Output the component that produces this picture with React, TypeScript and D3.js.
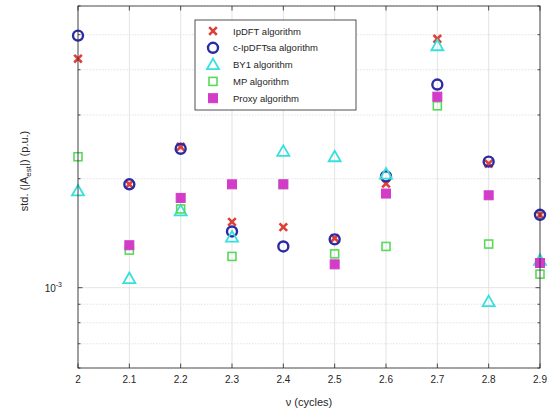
import React from "react";
import * as d3 from "d3";

// Frequency deviation (cycles) for each test case
const nu = [2.0, 2.1, 2.2, 2.3, 2.4, 2.5, 2.6, 2.7, 2.8, 2.9];

// Standard deviation of the estimated amplitude (p.u.) per algorithm (null = not plotted)
const ipdft = [4.29e-3, 1.93e-3, 2.45e-3, 1.52e-3, 1.47e-3, 1.37e-3, 1.94e-3, 4.87e-3, 2.2e-3, 1.59e-3];
const cIpdftSa = [4.97e-3, 1.93e-3, 2.42e-3, 1.43e-3, 1.3e-3, 1.36e-3, 2.03e-3, 3.64e-3, 2.23e-3, 1.59e-3];
const by1 = [1.85e-3, 1.06e-3, 1.63e-3, 1.38e-3, 2.38e-3, 2.3e-3, 2.06e-3, 4.66e-3, 0.915e-3, 1.19e-3];
const mp = [2.3e-3, 1.27e-3, 1.65e-3, 1.22e-3, 1.93e-3, 1.24e-3, 1.3e-3, 3.18e-3, 1.32e-3, 1.09e-3];
const proxy: (number | null)[] = [null, 1.31e-3, 1.77e-3, 1.93e-3, 1.93e-3, 1.16e-3, 1.82e-3, 3.37e-3, 1.8e-3, 1.17e-3];

const xTicks = [2.0, 2.1, 2.2, 2.3, 2.4, 2.5, 2.6, 2.7, 2.8, 2.9];
const xTickLabels = ["2", "2.1", "2.2", "2.3", "2.4", "2.5", "2.6", "2.7", "2.8", "2.9"];
const yMinorTicks = [6e-4, 7e-4, 8e-4, 9e-4, 2e-3, 3e-3, 4e-3, 5e-3, 6e-3];
const yMajorTicks = [1e-3];

type Marker = "x" | "circle" | "triangle" | "square" | "filled";
const series: { name: string; values: (number | null)[]; color: string; marker: Marker }[] = [
  { name: "IpDFT algorithm", values: ipdft, color: "#dc4038", marker: "x" },
  { name: "c-IpDFTsa algorithm", values: cIpdftSa, color: "#2b2ba6", marker: "circle" },
  { name: "BY1 algorithm", values: by1, color: "#36e0dc", marker: "triangle" },
  { name: "MP algorithm", values: mp, color: "#5ad85a", marker: "square" },
  { name: "Proxy algorithm", values: proxy, color: "#d23cc8", marker: "filled" },
];

const W = 550;
const H = 416;
const left = 78;
const right = 540;
const top = 6;
const bottom = 368;
const font = "'Liberation Sans', Arial, sans-serif";
const textColor = "#262626";

function MarkerShape({ kind, cx, cy, color }: { kind: Marker; cx: number; cy: number; color: string }) {
  switch (kind) {
    case "x":
      return (
        <g stroke={color} strokeWidth={2.6}>
          <line x1={cx - 3.8} y1={cy - 3.8} x2={cx + 3.8} y2={cy + 3.8} />
          <line x1={cx - 3.8} y1={cy + 3.8} x2={cx + 3.8} y2={cy - 3.8} />
        </g>
      );
    case "circle":
      return <circle cx={cx} cy={cy} r={5} fill="none" stroke={color} strokeWidth={2.4} />;
    case "triangle":
      return (
        <path
          d={`M${cx},${cy - 6} L${cx + 6},${cy + 4.5} L${cx - 6},${cy + 4.5} Z`}
          fill="none"
          stroke={color}
          strokeWidth={1.8}
        />
      );
    case "square":
      return <rect x={cx - 4} y={cy - 4} width={8} height={8} fill="none" stroke={color} strokeWidth={1.6} />;
    case "filled":
      return <rect x={cx - 4.5} y={cy - 4.5} width={9} height={9} fill={color} stroke={color} strokeWidth={1} />;
  }
}

export default function App() {
  const x = d3.scaleLinear().domain([2.0, 2.9]).range([left, right]);
  const y = d3.scaleLog().domain([6e-4, 6e-3]).range([bottom, top]);

  const allY = [...yMinorTicks, ...yMajorTicks];

  const legX = 195;
  const legY = 20;
  const legW = 161;
  const legH = 90;
  const legRow = 16.8;

  return (
    <svg width={W} height={H} style={{ position: "absolute", left: 0, top: 0, background: "#fff" }}>
      <rect x={0} y={0} width={W} height={H} fill="#fff" />
      {/* grid */}
      <g stroke="#dcdcdc" strokeWidth={0.8}>
        {xTicks.map((t) => (
          <line key={`gx${t}`} x1={x(t)} x2={x(t)} y1={top} y2={bottom} />
        ))}
        {allY.map((t) => (
          <line
            key={`gy${t}`}
            x1={left}
            x2={right}
            y1={y(t)}
            y2={y(t)}
            strokeDasharray={yMajorTicks.includes(t) ? undefined : "1.5,1.5"}
          />
        ))}
      </g>

      {/* markers */}
      {series.map((s) => (
        <g key={s.name}>
          {s.values.map((v, i) =>
            v == null ? null : <MarkerShape key={i} kind={s.marker} cx={x(nu[i])} cy={y(v)} color={s.color} />
          )}
        </g>
      ))}

      {/* axes box */}
      <rect x={left} y={top} width={right - left} height={bottom - top} fill="none" stroke="#262626" strokeWidth={0.8} />
      <g stroke="#262626" strokeWidth={0.8}>
        {xTicks.map((t) => (
          <g key={`tx${t}`}>
            <line x1={x(t)} x2={x(t)} y1={bottom} y2={bottom - 4.5} />
            <line x1={x(t)} x2={x(t)} y1={top} y2={top + 4.5} />
          </g>
        ))}
        {yMajorTicks.map((t) => (
          <g key={`ty${t}`}>
            <line x1={left} x2={left + 4.5} y1={y(t)} y2={y(t)} />
            <line x1={right} x2={right - 4.5} y1={y(t)} y2={y(t)} />
          </g>
        ))}
        {yMinorTicks.map((t) => (
          <g key={`tym${t}`}>
            <line x1={left} x2={left + 2.5} y1={y(t)} y2={y(t)} />
            <line x1={right} x2={right - 2.5} y1={y(t)} y2={y(t)} />
          </g>
        ))}
      </g>

      {/* tick labels */}
      <g fontFamily={font} fontSize={10} fill={textColor}>
        {xTicks.map((t, i) => (
          <text key={`lx${t}`} x={x(t)} y={bottom + 15} textAnchor="middle">
            {xTickLabels[i]}
          </text>
        ))}
        {yMajorTicks.map((t) => (
          <text key={`ly${t}`} x={left - 16} y={y(t) + 4} textAnchor="end">
            10
            <tspan dy={-5} fontSize={7}>
              -3
            </tspan>
          </text>
        ))}
      </g>

      {/* axis labels */}
      <text x={(left + right) / 2} y={bottom + 38} textAnchor="middle" fontFamily={font} fontSize={11} fill={textColor}>
        ν (cycles)
      </text>
      <text
        transform={`translate(28, ${(top + bottom) / 2 - 16}) rotate(-90)`}
        textAnchor="middle"
        fontFamily={font}
        fontSize={11}
        fill={textColor}
      >
        std. (|A
        <tspan dy={3} fontSize={8}>
          est
        </tspan>
        <tspan dy={-3}>|) (p.u.)</tspan>
      </text>

      {/* legend */}
      <rect x={legX} y={legY} width={legW} height={legH} fill="#fff" stroke="#262626" strokeWidth={0.8} />
      {series.map((s, i) => {
        const cy = legY + 11 + i * legRow;
        return (
          <g key={`leg${s.name}`}>
            <MarkerShape kind={s.marker} cx={legX + 18} cy={cy} color={s.color} />
            <text x={legX + 38} y={cy + 3.5} fontFamily={font} fontSize={9.5} fill={textColor}>
              {s.name}
            </text>
          </g>
        );
      })}
    </svg>
  );
}
